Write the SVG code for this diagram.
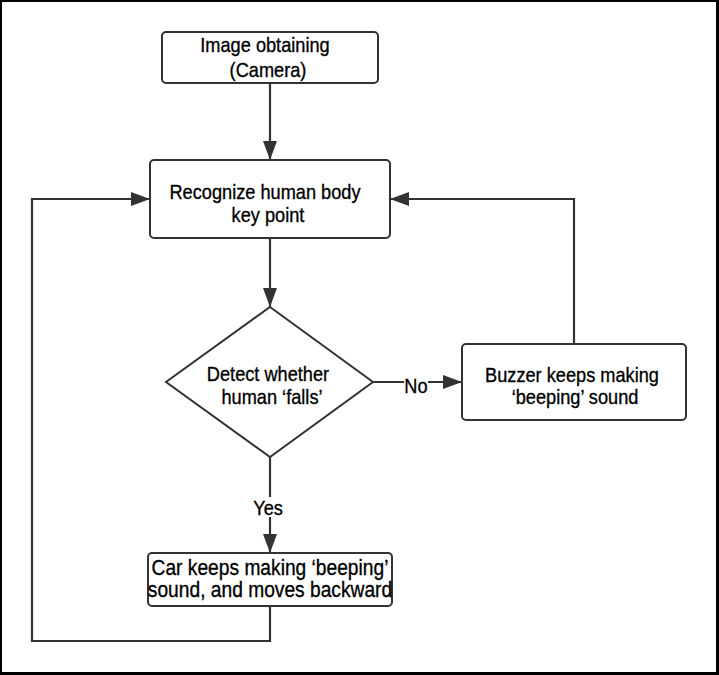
<svg xmlns="http://www.w3.org/2000/svg" width="719" height="675" viewBox="0 0 719 675">
<style>
.box{fill:#fff;stroke:#333;stroke-width:2}
.edge{fill:none;stroke:#333;stroke-width:2.2}
.t{font-family:"Liberation Sans",Arial,sans-serif;font-size:18.2px;fill:#000;stroke:#000;stroke-width:0.3;text-anchor:middle}
.big{font-size:19.2px}
</style>
<defs>
<marker id="arr" markerUnits="userSpaceOnUse" markerWidth="19" markerHeight="14" refX="19" refY="7" orient="auto">
<path d="M0,0 L19,7 L0,14 Z" fill="#333"/>
</marker>
</defs>
<rect width="719" height="675" fill="#fff"/>
<path d="M0,0 H719 V675 H0 Z M2,2 V672 H716 V2 Z" fill="#000" fill-rule="evenodd"/>
<g id="connectors">
<path class="edge" d="M270,83 V160" marker-end="url(#arr)"/>
<path class="edge" d="M270,238 V307" marker-end="url(#arr)"/>
<path class="edge" d="M373,382 H462" marker-end="url(#arr)"/>
<path class="edge" d="M574,344 V199 H390" marker-end="url(#arr)"/>
<path class="edge" d="M270,457 V553" marker-end="url(#arr)"/>
<path class="edge" d="M270,606 V641 H32 V199 H150" marker-end="url(#arr)"/>
<g id="label-no">
<rect x="404" y="376" width="24" height="18" fill="#fff"/>
<text class="t" transform="translate(416,392.5) scale(1,1.14)">No</text>
</g>
<g id="label-yes">
<rect x="252" y="497" width="32" height="20" fill="#fff"/>
<text class="t" transform="translate(268,515) scale(1,1.14)">Yes</text>
</g>
</g>
<g id="node-image">
<rect class="box" x="162" y="32" width="216" height="51" rx="4"/>
<text class="t" transform="translate(265,52) scale(1,1.14)">Image obtaining</text>
<text class="t" transform="translate(268,77) scale(1,1.14)">(Camera)</text>
</g>
<g id="node-recognize">
<rect class="box" x="150" y="160" width="240" height="78" rx="4"/>
<text class="t" transform="translate(265,199) scale(1,1.14)">Recognize human body</text>
<text class="t" transform="translate(268,222) scale(1,1.14)">key point</text>
</g>
<g id="node-detect">
<polygon class="box" points="270,307 373,382 270,457 166,382"/>
<text class="t" transform="translate(268,381) scale(1,1.14)">Detect whether</text>
<text class="t" transform="translate(272,403.5) scale(1,1.14)">human ‘falls’</text>
</g>
<g id="node-buzzer">
<rect class="box" x="462" y="344" width="224" height="76" rx="4"/>
<text class="t" transform="translate(572,382) scale(1,1.14)">Buzzer keeps making</text>
<text class="t" transform="translate(575,403.5) scale(1,1.14)">‘beeping’ sound</text>
</g>
<g id="node-car">
<rect class="box" x="148" y="553" width="244" height="53" rx="4"/>
<text class="t big" transform="translate(270,575) scale(1,1.12)">Car keeps making ‘beeping’</text>
<text class="t big" transform="translate(270,597) scale(1,1.12)">sound, and moves backward</text>
</g>
</svg>
